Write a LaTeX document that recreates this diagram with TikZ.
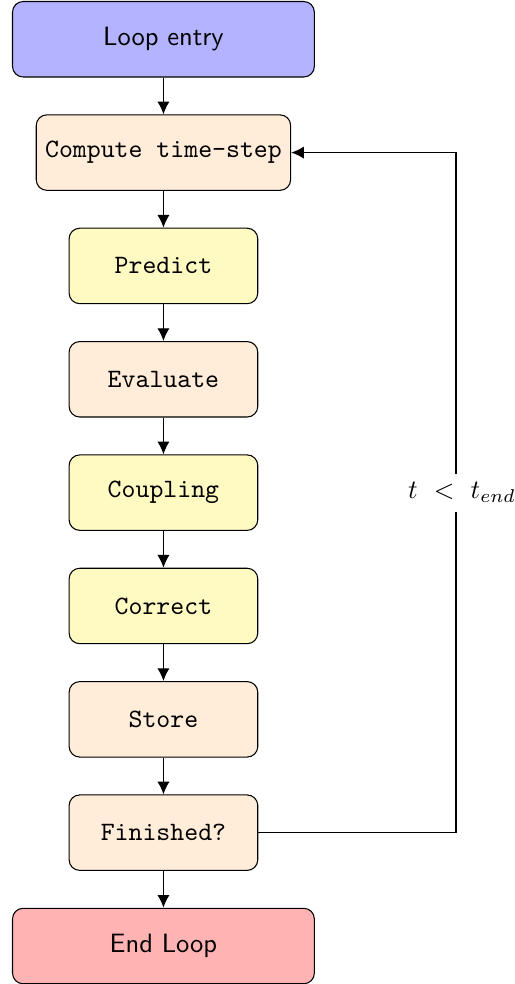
\documentclass[tikz,border=0pt]{standalone}
\usepackage{xcolor}
\usetikzlibrary{arrows.meta}
\usetikzlibrary{positioning, calc, math}
\definecolor{myblue}{RGB}{179, 179, 255}
\definecolor{myorange}{RGB}{255, 236, 217}
\definecolor{myyellow}{RGB}{255, 250, 194}
\definecolor{myred}{RGB}{255, 179, 179}

\begin{document}
\begin{tikzpicture}[
  node distance=0.488cm,
  box/.style={draw, rounded corners, minimum height=1cm, minimum width=2.5cm, font=\ttfamily},
  endbox/.style={draw, rounded corners, minimum height=1cm, minimum width=4cm, font=\sffamily},
  flow/.style={-{Latex[length=4.8pt,width=4.6pt]}, line width=0.5}
]
\tikzmath{
\L=3.876;%offset of return line
}
\useasboundingbox (-2.166,0) rectangle (4.657,-13.04);

%loop boxes
\node[endbox, fill=myblue] (entry) at (0,-0.52) {Loop entry};
\node[box, fill=myorange, below=of entry] (dt) {Compute time-step};
\node[box, fill=myyellow, below=of dt] (predict) {Predict};
\node[box, fill=myorange, below=of predict] (evaluate) {Evaluate};
\node[box, fill=myyellow, below=of evaluate] (coupling) {Coupling};
\node[box, fill=myyellow, below=of coupling] (correct) {Correct};
\node[box, fill=myorange, below=of correct] (store) {Store};
\node[box, fill=myorange, below=of store] (finished) {Finished?};
\node[endbox, fill=myred, below=of finished] (endloop) {End Loop};

%arrows down
\draw[flow] (entry) -- (dt);
\draw[flow] (dt) -- (predict);
\draw[flow] (predict) -- (evaluate);
\draw[flow] (evaluate) -- (coupling);
\draw[flow] (coupling) -- (correct);
\draw[flow] (correct) -- (store);
\draw[flow] (store) -- (finished);
\draw[flow] (finished) -- (endloop);

%return line
\coordinate (turn) at ($(finished.center)+(\L,0)$);
\draw (finished.east) -- (turn);
\draw[flow] (turn) |- node[pos=0.25, fill=white, xshift=0.08cm]{$t\ <\ t_{end}$} (dt.east);

\end{tikzpicture}
\end{document}
